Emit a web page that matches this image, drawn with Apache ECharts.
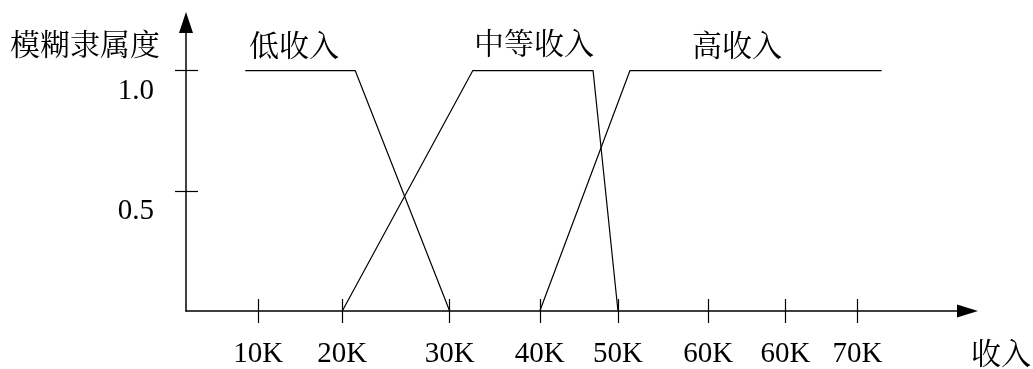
<!DOCTYPE html>
<html>
<head>
<meta charset="utf-8">
<script src="https://cdn.jsdelivr.net/npm/echarts@6/dist/echarts.min.js"></script>
<style>
  html, body { margin: 0; padding: 0; background: #fff; }
  #chart { width: 1033px; height: 369px; }
</style>
</head>
<body>
<div id="chart"></div>
<script>
// x positions of the income ticks (axis units) and their labels
const tickPos = [8.4, 18.2, 30.7, 41.2, 50.3, 60.8, 69.8, 78.2];
const tickLabels = ['10K', '20K', '30K', '40K', '50K', '60K', '60K', '70K'];
const yTicks = [0.5, 1.0];

// membership functions: [x, degree]
const lowIncome = [[6.9, 1], [19.7, 1], [30.7, 0]];
const midIncome = [[18.2, 0], [33.4, 1], [47.4, 1], [50.3, 0]];
const highIncome = [[41.2, 0], [51.7, 1], [81.0, 1]];
const seriesNames = ['低收入', '中等收入', '高收入'];

const FONT = '"Liberation Serif", "Noto Serif CJK SC", "Noto Sans CJK SC", serif';
const CJK = '"Noto Serif CJK SC", "Noto Sans CJK SC", serif';

const chart = echarts.init(document.getElementById('chart'), null, { renderer: 'canvas' });

const baseX = { type: 'value', min: 0, max: 91, position: 'bottom', splitLine: { show: false } };
const baseY = { type: 'value', min: 0, max: 1.2, position: 'left', splitLine: { show: false } };

const lineSeries = (name, data) => ({
  name, type: 'line', data, symbol: 'none', silent: true,
  lineStyle: { color: '#000', width: 1.2 }
});

chart.setOption({
  animation: false,
  backgroundColor: '#fff',
  grid: { left: 186, right: 65.5, top: 22.5, bottom: 57 },
  xAxis: [
    Object.assign({}, baseX, {
      axisLine: { onZero: false, lineStyle: { color: '#000', width: 1.5 },
        symbol: ['none', 'triangle'], symbolSize: [13, 21] },
      axisTick: { show: true, length: 12, customValues: tickPos, lineStyle: { color: '#000', width: 1.2 } },
      axisLabel: {
        customValues: tickPos, margin: 29, color: '#000', fontSize: 29, fontFamily: FONT,
        formatter: v => tickLabels[tickPos.indexOf(v)] || ''
      }
    }),
    Object.assign({}, baseX, {
      axisLine: { show: false, onZero: false },
      axisTick: { show: true, inside: true, length: 12, customValues: tickPos, lineStyle: { color: '#000', width: 1.2 } },
      axisLabel: { show: false }
    })
  ],
  yAxis: [
    Object.assign({}, baseY, {
      axisLine: { show: true, onZero: false, lineStyle: { color: '#000', width: 1.5 },
        symbol: ['none', 'triangle'], symbolSize: [14, 21] },
      axisTick: { show: true, length: 11, customValues: yTicks, lineStyle: { color: '#000', width: 1.2 } },
      axisLabel: {
        customValues: yTicks, margin: 32, color: '#000', fontSize: 29, fontFamily: FONT,
        verticalAlign: 'top', lineHeight: 42,
        formatter: v => v.toFixed(1)
      }
    }),
    Object.assign({}, baseY, {
      axisLine: { show: false, onZero: false },
      axisTick: { show: true, inside: true, length: 12, customValues: yTicks, lineStyle: { color: '#000', width: 1.2 } },
      axisLabel: { show: false }
    })
  ],
  series: [
    lineSeries(seriesNames[0], lowIncome),
    lineSeries(seriesNames[1], midIncome),
    lineSeries(seriesNames[2], highIncome)
  ],
  graphic: [
    { type: 'text', left: 10, top: 29, style: { text: '模糊隶属度', font: '30px ' + CJK, fill: '#000' } },
    { type: 'text', left: 249, top: 30, style: { text: seriesNames[0], font: '30px ' + CJK, fill: '#000' } },
    { type: 'text', left: 474, top: 28, style: { text: seriesNames[1], font: '30px ' + CJK, fill: '#000' } },
    { type: 'text', left: 692, top: 30, style: { text: seriesNames[2], font: '30px ' + CJK, fill: '#000' } },
    { type: 'text', left: 971, top: 338, style: { text: '收入', font: '30px ' + CJK, fill: '#000' } }
  ]
});
</script>
</body>
</html>
